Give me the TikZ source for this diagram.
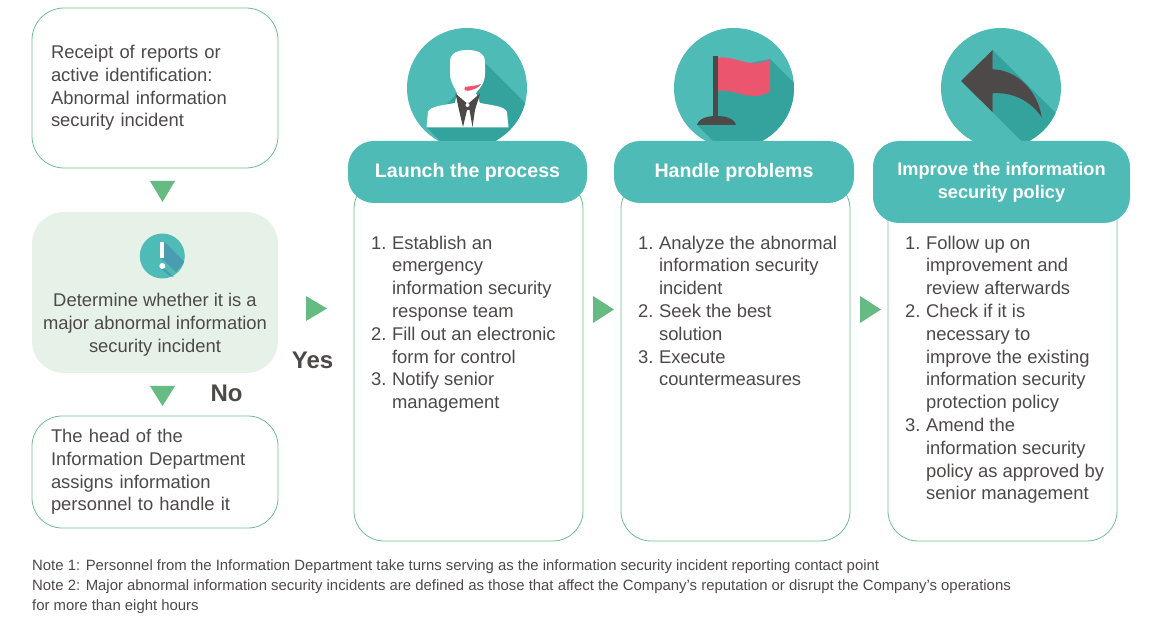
\documentclass[tikz,border=0pt]{standalone}
\usepackage{fontspec}
\setmainfont{Liberation Sans}
\definecolor{teal}{HTML}{4FBBB6}
\definecolor{darkteal}{HTML}{34A39E}
\definecolor{boxgreen}{HTML}{6FBF8C}
\definecolor{arrowgreen}{HTML}{66BB82}
\definecolor{palegreen}{HTML}{E6F1E8}
\definecolor{ink}{HTML}{4D4948}
\definecolor{rosered}{HTML}{EB566E}
\definecolor{shadeblue}{HTML}{4A9DB0}
\newcommand{\steplist}[1]{\begin{tabular}{@{}l@{\hspace{5.5pt}}l@{}}#1\end{tabular}}
\tikzset{
    body/.style={font=\fontsize{18.4}{22.8}\selectfont, text=ink},
    msgbox/.style={draw=boxgreen, line width=0.8pt, rounded corners=32pt, fill=white, minimum width=246pt, inner sep=0pt, body},
    colbox/.style={draw=boxgreen, line width=0.8pt, rounded corners=30pt, fill=white, minimum width=229pt, minimum height=362pt, inner sep=0pt},
    header/.style={fill=teal, rounded corners=26pt, inner sep=0pt, text=white, align=center, font=\fontsize{19.6}{23}\selectfont\bfseries},
    listtext/.style={anchor=north west, inner sep=0pt, body},
    answer/.style={text=ink, inner sep=0pt, font=\fontsize{24}{28}\selectfont\bfseries},
    note/.style={anchor=west, inner sep=0pt, text=ink, font=\fontsize{14.9}{20}\selectfont},
    badge/.style={circle, fill=teal, minimum size=120pt, inner sep=0pt},
}
\begin{document}
\begin{tikzpicture}[x=1pt,y=-1pt]
    \useasboundingbox (0,0) rectangle (1160,620);

    % left column
    \node[msgbox, minimum height=160pt, text width=208pt, align=left] (receipt) at (155,88) {Receipt of reports or\\active identification:\\Abnormal information\\security incident};
    \node[msgbox, draw=none, fill=palegreen, minimum height=161pt] (decide) at (155,292.5) {};
    \node[fill=teal, circle, minimum size=45pt, inner sep=0pt] (alert) at (162.3,256) {};
    \fill[shadeblue] (164.5,242) -- (184,261.5) arc (-30:-7:0) -- (183.5,263) -- (176,272) -- (160,257) -- cycle;
    \fill[shadeblue] (163,267) -- (174,277) -- (170,276) -- (160,268) -- cycle;
    \fill[white] (160.2,241.7) rectangle (164.4,258.3);
    \fill[white] (162.3,266) circle (3);
    \node[body, inner sep=0pt, align=center] (decidetext) at (155,325) {Determine whether it is a\\major abnormal information\\security incident};
    \node[msgbox, minimum height=112pt, rounded corners=30pt, text width=208pt, align=left] (assign) at (155,472) {The head of the\\Information Department\\assigns information\\personnel to handle it};

    % triangles
    \fill[arrowgreen] (150,181) -- (175,181) -- (162.5,202) -- cycle;
    \fill[arrowgreen] (150,386) -- (175,386) -- (162.5,406) -- cycle;
    \fill[arrowgreen] (306,296) -- (306,321) -- (327,308.5) -- cycle;
    \fill[arrowgreen] (593,296) -- (593,323) -- (614,309.5) -- cycle;
    \fill[arrowgreen] (860,296) -- (860,323) -- (881,309.5) -- cycle;
    \node[answer] (yes) at (312.5,360) {Yes};
    \node[answer] (no) at (226.5,393) {No};

    % first column
    \node[colbox] (launchbox) at (468.5,360) {};
    \node[badge] (launchicon) at (467,88) {};
    \begin{scope}
        \clip (467,88) circle (60);
        \fill[darkteal] (485,63) -- (545,123) -- (545,160) -- (459,160) -- (426,127) -- cycle;
    \end{scope}
    \fill[white] (450,62) .. controls (450,53) and (458,50) .. (467.5,50) .. controls (477,50) and (485,53) .. (485,62) -- (485,74) .. controls (485,84) and (478,90) .. (476,93) -- (480,103) .. controls (490,105) and (505,106) .. (507,112) -- (508.5,127.3) -- (426.5,127.3) -- (428,112) .. controls (430,106) and (445,105) .. (455,103) -- (457,93) .. controls (455,88) and (450,82) .. (450,74) -- cycle;
    \fill[ink] (455.5,93.5) -- (466.5,103) -- (469,103) -- (480,93.5) -- (475,110) -- (472.5,127) -- (469.5,110) -- (467,110) -- (463,127) -- (459,110) -- cycle;
    \fill[white] (467.5,105) circle (2);
    \fill[rosered] (465,87) .. controls (470,86) and (476,86) .. (481,84) .. controls (479,88) and (474,89) .. (470,90.5) .. controls (466,91.5) and (463,90) .. (465,87) -- cycle;
    \node[header, minimum width=239pt, minimum height=62pt] (launchhead) at (467.5,172) {Launch the process};
    \node[listtext] (launchlist) at (371,233) {\steplist{1.&Establish an\\&emergency\\&information security\\&response team\\2.&Fill out an electronic\\&form for control\\3.&Notify senior\\&management}};

    % second column
    \node[colbox] (handlebox) at (735.5,360) {};
    \node[badge] (handleicon) at (734,88) {};
    \begin{scope}
        \clip (734,88) circle (60);
        \fill[darkteal] (770,59) -- (830,119) -- (830,170) -- (742,170) -- (697,125) -- (716,125) -- (716,70) -- cycle;
    \end{scope}
    \fill[rosered] (718,57.7) .. controls (735,55) and (750,70) .. (770,59) -- (770,91.7) .. controls (750,103) and (735,88) .. (718,91) -- cycle;
    \fill[ink] (713.3,56) rectangle (718,117);
    \fill[ink] (697,125) .. controls (699,118) and (708,116) .. (716.5,116) .. controls (725,116) and (734,118) .. (736,125) -- cycle;
    \node[header, minimum width=240pt, minimum height=62pt] (handlehead) at (734,172) {Handle problems};
    \node[listtext] (handlelist) at (638,233) {\steplist{1.&Analyze the abnormal\\&information security\\&incident\\2.&Seek the best\\&solution\\3.&Execute\\&countermeasures}};

    % third column
    \node[colbox] (improvebox) at (1002.5,360) {};
    \node[badge] (improveicon) at (1001,88) {};
    \begin{scope}
        \clip (1001,88) circle (60);
        \fill[darkteal] (992.7,50) -- (1072,129.3) -- (1072,190) -- (1070,190) -- (992.7,112.3) -- cycle;
    \end{scope}
    \fill[ink] (961,81) -- (992.7,50) -- (992.7,69.3) .. controls (1018,70) and (1038,92) .. (1041.7,117.3) .. controls (1030,100) and (1012,92) .. (992.7,93.3) -- (992.7,112.3) -- cycle;
    \node[header, minimum width=257pt, minimum height=82pt, font=\fontsize{18.2}{23}\selectfont\bfseries] (improvehead) at (1001.5,182) {Improve the information\\security policy};
    \node[listtext] (improvelist) at (905,233) {\steplist{1.&Follow up on\\&improvement and\\&review afterwards\\2.&Check if it is\\&necessary to\\&improve the existing\\&information security\\&protection policy\\3.&Amend the\\&information security\\&policy as approved by\\&senior management}};

    % notes
    \node[note] (noteone) at (32,567) {Note 1: Personnel from the Information Department take turns serving as the information security incident reporting contact point};
    \node[note] (notetwo) at (32,587) {Note 2: Major abnormal information security incidents are defined as those that affect the Company's reputation or disrupt the Company's operations};
    \node[note] (notetwob) at (32,607) {for more than eight hours};
\end{tikzpicture}
\end{document}
